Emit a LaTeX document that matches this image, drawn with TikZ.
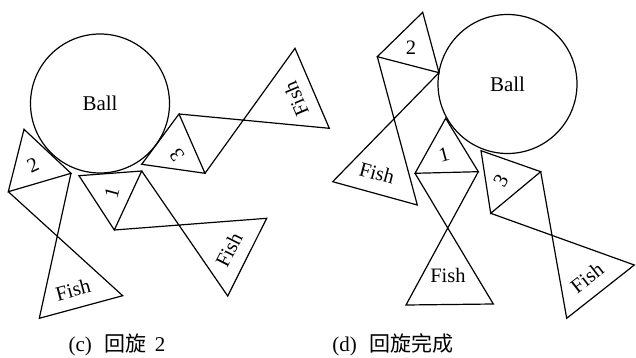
\documentclass[tikz,border=0pt]{standalone}
\usepackage{fontspec}
\setmainfont{Liberation Serif}
\newfontfamily\cjk{Noto Sans CJK TC}
\begin{document}
\begin{tikzpicture}[x=1pt,y=-1pt,
  edge/.style={line width=1.2pt, line join=miter},
  lbl/.style={font=\fontsize{20.5}{24}\selectfont, inner sep=0pt},
  ball/.style={circle, draw, line width=1.2pt, minimum size=139pt, inner sep=0pt, font=\fontsize{21}{24}\selectfont},
  captext/.style={font=\fontsize{21}{24}\selectfont, inner sep=0pt}]
\useasboundingbox (0,0) rectangle (636,358);

% ---------- (c) ----------
\node[ball] (ballc) at (100,103.5) {Ball};
% triangle 2
\coordinate (c2a) at (24,129.3);
\coordinate (c2b) at (8.3,191.7);
\coordinate (c2c) at (71,173.3);
\coordinate (c2d) at (122.7,295.7);
\coordinate (c2e) at (39.3,318.3);
\draw[edge] (c2a) -- (c2b) -- (c2c) -- cycle;
\draw[edge] (c2b) -- (c2d) -- (c2e) -- (c2c);
% triangle 1
\coordinate (c1a) at (79,175.7);
\coordinate (c1b) at (141.7,171);
\coordinate (c1c) at (114.3,230);
\coordinate (c1d) at (227.7,296);
\coordinate (c1e) at (266.7,218.3);
\draw[edge] (c1a) -- (c1b) -- (c1c) -- cycle;
\draw[edge] (c1b) -- (c1d) -- (c1e) -- (c1c);
% triangle 3
\coordinate (c3a) at (141.7,164.3);
\coordinate (c3b) at (179,114);
\coordinate (c3c) at (205,173.3);
\coordinate (c3d) at (329.3,128.3);
\coordinate (c3e) at (295,48.3);
\draw[edge] (c3a) -- (c3b) -- (c3c) -- cycle;
\draw[edge] (c3b) -- (c3d) -- (c3e) -- (c3c);
% labels
\node[lbl, rotate=25] (c2l) at (33,165) {2};
\node[lbl, rotate=75] (c1l) at (112,193) {1};
\node[lbl, rotate=125] (c3l) at (177,155) {3};
\node[lbl, rotate=15] (c2f) at (73,290) {Fish};
\node[lbl, rotate=63] (c1f) at (229,250) {Fish};
\node[lbl, rotate=113] (c3f) at (296,99) {Fish};
\node[captext] (capc) at (117,345) {(c)\hspace{0.6em}{\cjk 回旋}\hspace{0.4em}2};

% ---------- (d) ----------
\node[ball] (balld) at (507.5,84) {Ball};
% triangle 2
\coordinate (d2a) at (422.7,12.3);
\coordinate (d2b) at (377.3,56.7);
\coordinate (d2c) at (439,72.7);
\coordinate (d2d) at (417.3,205);
\coordinate (d2e) at (332.7,181.7);
\draw[edge] (d2a) -- (d2b) -- (d2c) -- cycle;
\draw[edge] (d2b) -- (d2d) -- (d2e) -- (d2c);
% triangle 1
\coordinate (d1a) at (445.7,118.3);
\coordinate (d1b) at (415,173.3);
\coordinate (d1c) at (478.3,171.7);
\coordinate (d1d) at (493.3,304);
\coordinate (d1e) at (406,305);
\draw[edge] (d1a) -- (d1b) -- (d1c) -- cycle;
\draw[edge] (d1b) -- (d1d) -- (d1e) -- (d1c);
% triangle 3
\coordinate (d3a) at (481,150.7);
\coordinate (d3b) at (540.7,171.7);
\coordinate (d3c) at (490.7,213.3);
\coordinate (d3d) at (566.7,318.3);
\coordinate (d3e) at (634.3,265);
\draw[edge] (d3a) -- (d3b) -- (d3c) -- cycle;
\draw[edge] (d3b) -- (d3d) -- (d3e) -- (d3c);
% labels
\node[lbl] (d2l) at (411,48) {2};
\node[lbl, rotate=15] (d1l) at (444,155) {1};
\node[lbl, rotate=60] (d3l) at (501,181) {3};
\node[lbl, rotate=-15] (d2f) at (377,173) {Fish};
\node[lbl] (d1f) at (448,275) {Fish};
\node[lbl, rotate=38] (d3f) at (587,278) {Fish};
\node[captext] (capd) at (393,345) {(d)\hspace{0.6em}{\cjk 回旋完成}};
\end{tikzpicture}
\end{document}
